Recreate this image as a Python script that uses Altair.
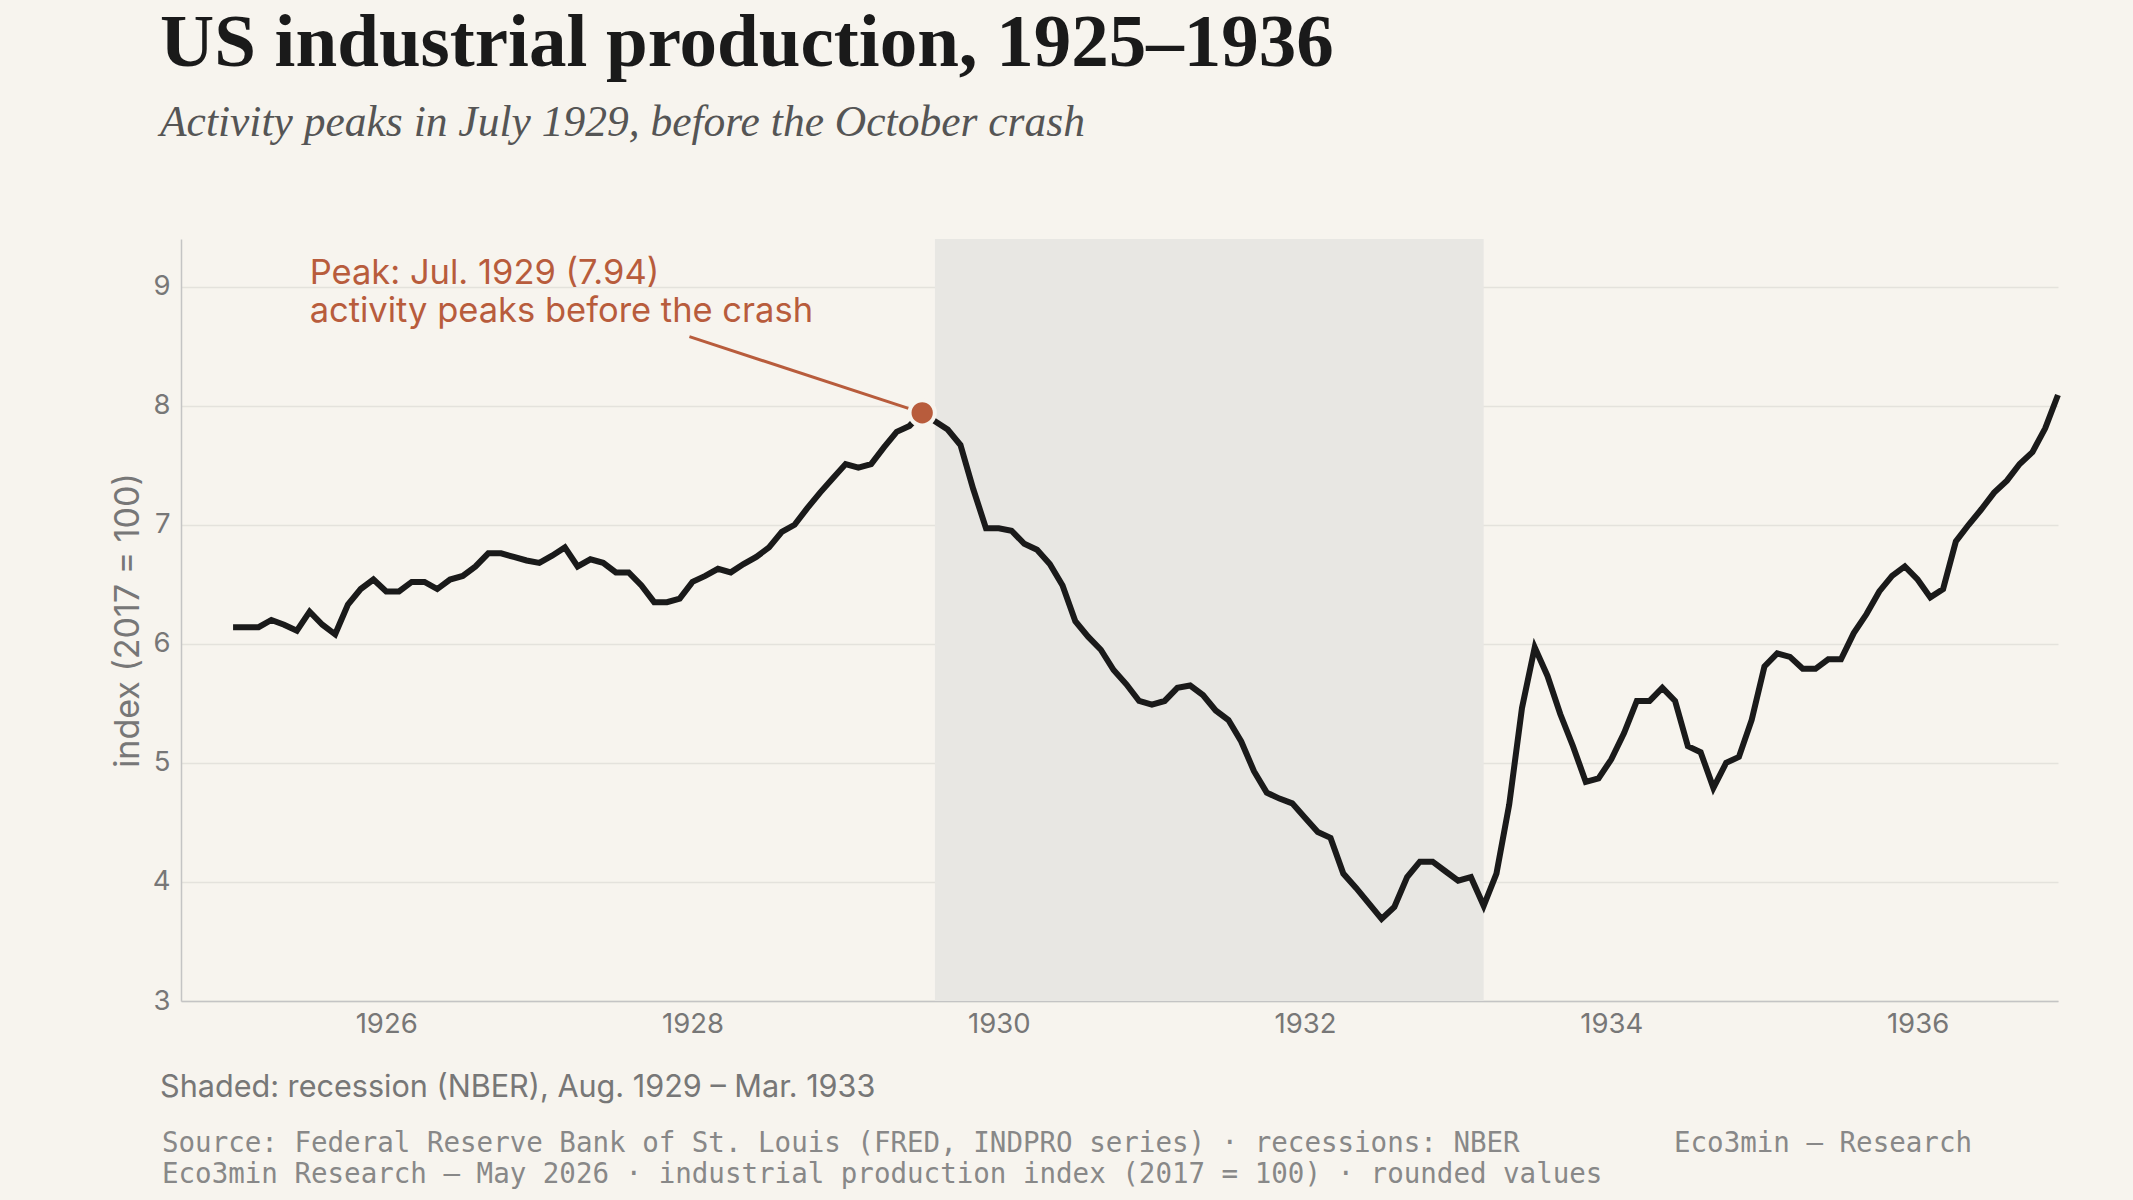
import altair as alt
import pandas as pd

# ---- monthly US industrial production index (2017 = 100), Jan..Dec ----
ip_1925 = [6.14, 6.14, 6.14, 6.20, 6.16, 6.11, 6.27, 6.16, 6.08, 6.33, 6.46, 6.54]
ip_1926 = [6.44, 6.44, 6.52, 6.52, 6.46, 6.54, 6.57, 6.65, 6.76, 6.76, 6.73, 6.70]
ip_1927 = [6.68, 6.74, 6.81, 6.65, 6.71, 6.68, 6.60, 6.60, 6.49, 6.35, 6.35, 6.38]
ip_1928 = [6.52, 6.57, 6.63, 6.60, 6.67, 6.73, 6.81, 6.94, 7.00, 7.14, 7.27, 7.39]
ip_1929 = [7.51, 7.48, 7.51, 7.65, 7.78, 7.83, 7.94, 7.87, 7.80, 7.67, 7.30, 6.97]
ip_1930 = [6.97, 6.95, 6.84, 6.79, 6.67, 6.49, 6.19, 6.06, 5.95, 5.78, 5.66, 5.52]
ip_1931 = [5.49, 5.52, 5.63, 5.65, 5.57, 5.44, 5.36, 5.18, 4.93, 4.75, 4.70, 4.66]
ip_1932 = [4.54, 4.42, 4.37, 4.07, 3.95, 3.82, 3.69, 3.79, 4.04, 4.17, 4.17, 4.09]
ip_1933 = [4.01, 4.04, 3.80, 4.07, 4.65, 5.46, 5.97, 5.73, 5.41, 5.14, 4.84, 4.87]
ip_1934 = [5.03, 5.25, 5.52, 5.52, 5.63, 5.52, 5.14, 5.09, 4.79, 5.00, 5.05, 5.36]
ip_1935 = [5.81, 5.92, 5.89, 5.79, 5.79, 5.87, 5.87, 6.09, 6.25, 6.44, 6.57, 6.65]
ip_1936 = [6.54, 6.39, 6.46, 6.86, 7.00, 7.13, 7.27, 7.37, 7.51, 7.61, 7.81, 8.09]

years = list(range(1925, 1937))
series = [ip_1925, ip_1926, ip_1927, ip_1928, ip_1929, ip_1930,
          ip_1931, ip_1932, ip_1933, ip_1934, ip_1935, ip_1936]

# recession (NBER): Aug. 1929 -> Mar. 1933, as decimal years
recession_start = 1929 + 7 / 12
recession_end = 1933 + 2 / 12

# peak annotation
peak_t = 1929 + 6 / 12
peak_v = 7.94
label_t = 1925.5
label_v = 9.02
label_lines = "Peak: Jul. 1929 (7.94)\nactivity peaks before the crash"
leader_t = 1927.98
leader_v = 8.58

x_ticks = [1926, 1928, 1930, 1932, 1934, 1936]
y_ticks = [3, 4, 5, 6, 7, 8, 9]
x_domain = [1924.66, 1936.917]
y_domain = [3, 9.4]

title_text = "US industrial production, 1925\u20131936"
subtitle_text = "Activity peaks in July 1929, before the October crash"
note_text = "Shaded: recession (NBER), Aug. 1929 \u2013 Mar. 1933"
source_1 = "Source: Federal Reserve Bank of St. Louis (FRED, INDPRO series) \u00b7 recessions: NBER"
source_2 = "Eco3min Research \u2014 May 2026 \u00b7 industrial production index (2017 = 100) \u00b7 rounded values"
byline = "Eco3min \u2014 Research"

# ---- tables ----
rows = []
for y, vals in zip(years, series):
    for m, v in enumerate(vals):
        rows.append({"t": y + m / 12, "v": v})
df = pd.DataFrame(rows)

BG = "#f7f4ee"
ACCENT = "#b85c3c"
GREY = "#777777"
W, H = 1877, 762

xs = alt.Scale(domain=x_domain, nice=False, zero=False)
ys = alt.Scale(domain=y_domain, nice=False, zero=False)

x_axis = alt.Axis(values=x_ticks, format="d", grid=False, ticks=False,
                  labelFont="Inter", labelFontSize=27.5, labelColor=GREY,
                  labelPadding=9, domainColor="#c4c4c4", domainWidth=1.5,
                  title=None)
y_axis = alt.Axis(values=y_ticks, format="d", grid=True, gridColor="#e4e2dc",
                  gridWidth=1.5, ticks=False, labelFont="Inter", labelFontSize=27.5,
                  labelColor=GREY, labelPadding=11, domainColor="#c4c4c4",
                  domainWidth=1.5, title="index (2017 = 100)", titleFont="Inter",
                  titleFontSize=34, titleFontWeight="normal", titleColor=GREY,
                  titlePadding=7)

shade = alt.Chart(pd.DataFrame({"a": [recession_start], "b": [recession_end]})).mark_rect(
    color="#e8e7e3").encode(
    x=alt.X("a:Q", scale=xs, axis=x_axis), x2="b:Q")

line = alt.Chart(df).mark_line(color="#1a1a1a", strokeWidth=6).encode(
    x=alt.X("t:Q", scale=xs, axis=x_axis),
    y=alt.Y("v:Q", scale=ys, axis=y_axis))

leader = alt.Chart(pd.DataFrame({"t": [leader_t], "v": [leader_v],
                                 "t2": [peak_t], "v2": [peak_v]})).mark_rule(
    color=ACCENT, strokeWidth=3).encode(
    x=alt.X("t:Q", scale=xs), y=alt.Y("v:Q", scale=ys), x2="t2:Q", y2="v2:Q")

dot = alt.Chart(pd.DataFrame({"t": [peak_t], "v": [peak_v]})).mark_point(
    filled=True, color=ACCENT, size=640, opacity=1, stroke=BG, strokeWidth=4).encode(
    x=alt.X("t:Q", scale=xs), y=alt.Y("v:Q", scale=ys))

label = alt.Chart(pd.DataFrame({"t": [label_t], "v": [label_v], "s": [label_lines]})).mark_text(
    align="left", baseline="alphabetic", font="Inter", fontSize=34.5, color=ACCENT,
    lineBreak="\n", lineHeight=38).encode(
    x=alt.X("t:Q", scale=xs), y=alt.Y("v:Q", scale=ys), text="s:N")


def fixed_text(txt, px, py, **kw):
    return alt.Chart(pd.DataFrame({"s": [txt]})).mark_text(
        baseline="alphabetic", **kw).encode(
        x=alt.value(px), y=alt.value(py), text="s:N")


title = fixed_text(title_text, -21, -173, align="left", font="Liberation Serif",
                   fontSize=75, fontWeight="bold", color="#1a1a1a")
subtitle = fixed_text(subtitle_text, -21, -103, align="left", font="Liberation Serif",
                      fontSize=43.5, fontStyle="italic", color="#555555")
note = fixed_text(note_text, -21, 858, align="left", font="Inter", fontSize=30.6, color=GREY)
src1 = fixed_text(source_1, -19, 913, align="left", font="DejaVu Sans Mono",
                  fontSize=27.5, color="#888888")
src2 = fixed_text(source_2, -19, 944, align="left", font="DejaVu Sans Mono",
                  fontSize=27.5, color="#888888")
by = fixed_text(byline, 1791, 913, align="right", font="DejaVu Sans Mono",
                fontSize=27.5, color="#888888")

chart = alt.layer(shade, line, leader, dot, label, title, subtitle, note, src1, src2, by).properties(
    width=W, height=H,
    padding={"left": 181, "top": 239, "right": 75, "bottom": 199},
    autosize=alt.AutoSizeParams(type="none"),
    background=BG,
).configure_view(stroke=None)

chart.save("out.html", embed_options={"renderer": "svg", "actions": False})
